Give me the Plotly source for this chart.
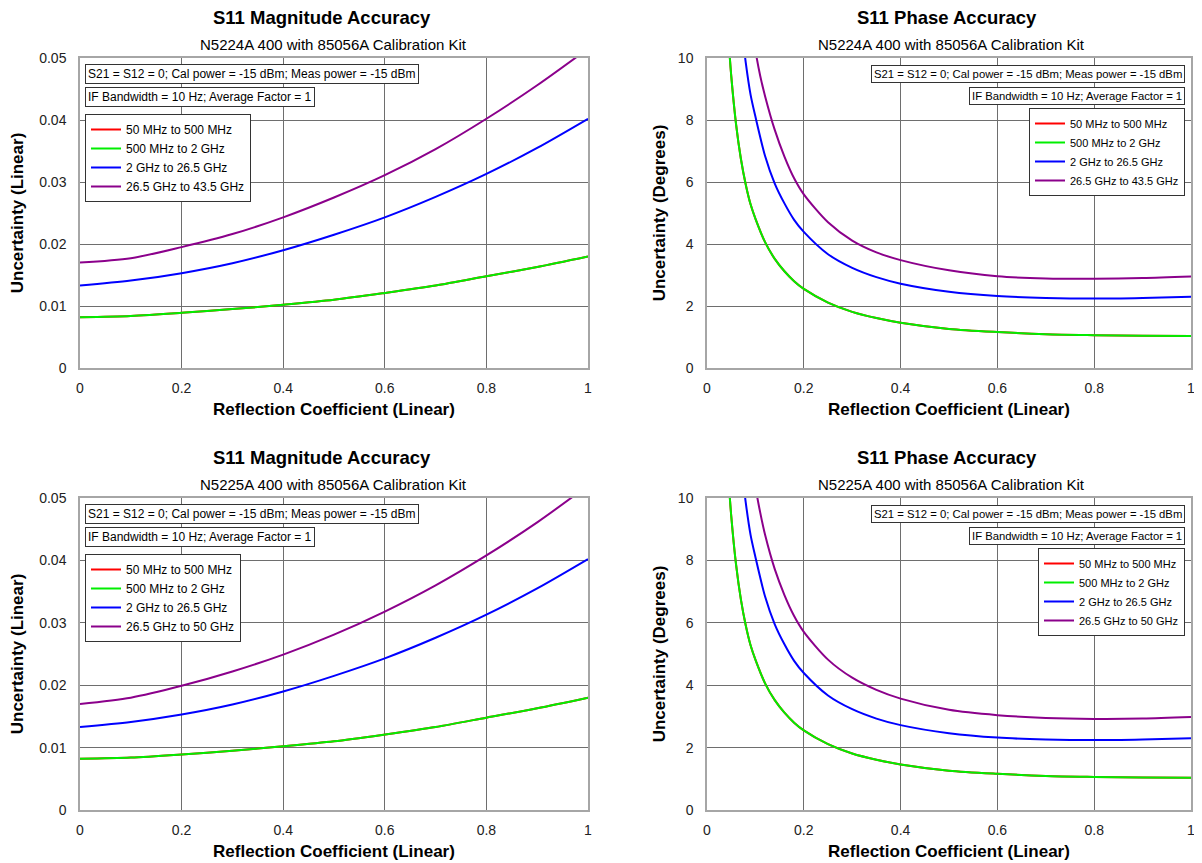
import plotly.graph_objects as go

# ---------------- data ----------------
series_names_top = ["50 MHz to 500 MHz", "500 MHz to 2 GHz", "2 GHz to 26.5 GHz", "26.5 GHz to 43.5 GHz"]
series_names_bot = ["50 MHz to 500 MHz", "500 MHz to 2 GHz", "2 GHz to 26.5 GHz", "26.5 GHz to 50 GHz"]
series_colors = ["#ff0000", "#00ee00", "#0000ff", "#8b008b"]

# Magnitude accuracy (linear)
mag_x = [0.0, 0.1, 0.2, 0.3, 0.4, 0.5, 0.6, 0.7, 0.8, 0.9, 1.0]
mag_red = [0.0082, 0.0084, 0.0089, 0.0095, 0.0102, 0.0110, 0.0121, 0.0133, 0.0148, 0.0163, 0.0180]
mag_green = [0.0082, 0.0084, 0.0089, 0.0095, 0.0102, 0.0110, 0.0121, 0.0133, 0.0148, 0.0163, 0.0180]
mag_blue = [0.0133, 0.0141, 0.0153, 0.0169, 0.0190, 0.0215, 0.0243, 0.0276, 0.0313, 0.0355, 0.0402]
mag_purple_n5224 = [0.0170, 0.0177, 0.0195, 0.0216, 0.0243, 0.0275, 0.0311, 0.0353, 0.0402, 0.0456, 0.0515]
mag_purple_n5225 = [0.0170, 0.0180, 0.0199, 0.0222, 0.0249, 0.0281, 0.0318, 0.0360, 0.0408, 0.0461, 0.0520]

# Phase accuracy (degrees)
ph_x_green = [0.04, 0.045, 0.05, 0.06, 0.07, 0.08, 0.09, 0.10, 0.12, 0.14, 0.16, 0.18, 0.20, 0.25, 0.30, 0.35, 0.40, 0.50, 0.60, 0.70, 0.80, 0.90, 1.00]
ph_green = [11.83, 10.5, 9.44, 7.87, 6.75, 5.92, 5.28, 4.82, 4.06, 3.52, 3.12, 2.80, 2.55, 2.11, 1.81, 1.61, 1.46, 1.26, 1.16, 1.09, 1.06, 1.04, 1.03]
ph_red = [11.83, 10.5, 9.44, 7.87, 6.75, 5.92, 5.28, 4.82, 4.06, 3.52, 3.12, 2.80, 2.55, 2.11, 1.81, 1.61, 1.46, 1.26, 1.16, 1.09, 1.06, 1.04, 1.03]
ph_x_blue = [0.07, 0.08, 0.09, 0.10, 0.12, 0.14, 0.16, 0.18, 0.20, 0.25, 0.30, 0.35, 0.40, 0.50, 0.60, 0.70, 0.80, 0.90, 1.00]
ph_blue = [11.2, 9.86, 8.82, 8.11, 6.84, 5.95, 5.31, 4.78, 4.39, 3.67, 3.23, 2.93, 2.72, 2.46, 2.32, 2.26, 2.24, 2.26, 2.30]
ph_x_purple = [0.09, 0.10, 0.11, 0.12, 0.14, 0.16, 0.18, 0.20, 0.25, 0.30, 0.35, 0.40, 0.50, 0.60, 0.70, 0.80, 0.90, 1.00]
ph_purple_n5224 = [11.34, 10.25, 9.42, 8.77, 7.68, 6.82, 6.12, 5.60, 4.70, 4.11, 3.73, 3.48, 3.15, 2.96, 2.89, 2.88, 2.90, 2.95]
ph_purple_n5225 = [11.5, 10.37, 9.53, 8.82, 7.72, 6.89, 6.22, 5.71, 4.82, 4.24, 3.85, 3.57, 3.21, 3.04, 2.95, 2.92, 2.93, 2.98]

x_ticks = [0, 0.2, 0.4, 0.6, 0.8, 1]
x_tick_text = ["0", "0.2", "0.4", "0.6", "0.8", "1"]
mag_ticks = [0, 0.01, 0.02, 0.03, 0.04, 0.05]
mag_tick_text = ["0", "0.01", "0.02", "0.03", "0.04", "0.05"]
ph_ticks = [0, 2, 4, 6, 8, 10]

titles = ["S11 Magnitude Accuracy", "S11 Phase Accuracy", "S11 Magnitude Accuracy", "S11 Phase Accuracy"]
subtitles = ["N5224A 400 with 85056A Calibration Kit", "N5224A 400 with 85056A Calibration Kit",
             "N5225A 400 with 85056A Calibration Kit", "N5225A 400 with 85056A Calibration Kit"]
note1 = "S21 = S12 = 0; Cal power = -15 dBm; Meas power = -15 dBm"
note2 = "IF Bandwidth = 10 Hz; Average Factor = 1"

# ---------------- layout helpers ----------------
# The page body has an 8px margin, so the figure starts 8px in from the window corner.
OFF = 8
W, H = 1230, 863 - OFF
FONT = "Liberation Sans, Arial, sans-serif"

def px_x(p):
    return (p - OFF) / W

def px_y(p):
    return 1 - (p - OFF) / H

# plot areas in window pixels: (left, right, top, bottom)
areas = [(80, 588, 58, 368), (707, 1191, 58, 368), (80, 588, 498, 810), (707, 1191, 498, 810)]

fig = go.Figure()

panels = [
    dict(kind="mag", names=series_names_top,
         xs=[mag_x, mag_x, mag_x, mag_x],
         ys=[mag_red, mag_green, mag_blue, mag_purple_n5224]),
    dict(kind="ph", names=series_names_top,
         xs=[ph_x_green, ph_x_green, ph_x_blue, ph_x_purple],
         ys=[ph_red, ph_green, ph_blue, ph_purple_n5224]),
    dict(kind="mag", names=series_names_bot,
         xs=[mag_x, mag_x, mag_x, mag_x],
         ys=[mag_red, mag_green, mag_blue, mag_purple_n5225]),
    dict(kind="ph", names=series_names_bot,
         xs=[ph_x_green, ph_x_green, ph_x_blue, ph_x_purple],
         ys=[ph_red, ph_green, ph_blue, ph_purple_n5225]),
]

annotations = []
layout_axes = {}
legends = {}

for i, (panel, area) in enumerate(zip(panels, areas)):
    n = i + 1
    xa = "x" if n == 1 else f"x{n}"
    ya = "y" if n == 1 else f"y{n}"
    lg = "legend" if n == 1 else f"legend{n}"
    for name, xv, yv, col in zip(panel["names"], panel["xs"], panel["ys"], series_colors):
        fig.add_trace(go.Scatter(x=xv, y=yv, name=name, mode="lines",
                                 line=dict(color=col, width=2, shape="spline", smoothing=0.8),
                                 xaxis=xa, yaxis=ya, legend=lg, cliponaxis=True))
    l, r, t, b = area
    axis_common = dict(showline=True, linecolor="#a6a6a6", linewidth=1.5, mirror=True,
                       showgrid=True, gridcolor="#6e6e6e", gridwidth=1, zeroline=False,
                       automargin=False, ticklabeloverflow="allow",
                       ticks="", tickfont=dict(family=FONT, size=14, color="#222"),
                       title_font=dict(family=FONT, size=17, color="#000"))
    layout_axes[("xaxis" if n == 1 else f"xaxis{n}")] = dict(
        axis_common, domain=[px_x(l), px_x(r)], range=[0, 1], anchor=ya,
        tickvals=x_ticks, ticktext=x_tick_text, ticklabelstandoff=6,
        title=dict(text="<b>Reflection Coefficient (Linear)</b>", standoff=9))
    if panel["kind"] == "mag":
        yextra = dict(range=[0, 0.05], tickvals=mag_ticks, ticktext=mag_tick_text,
                      title=dict(text="<b>Uncertainty (Linear)</b>", standoff=13))
    else:
        yextra = dict(range=[0, 10], tickvals=ph_ticks,
                      title=dict(text="<b>Uncertainty (Degrees)</b>", standoff=8))
    layout_axes[("yaxis" if n == 1 else f"yaxis{n}")] = dict(
        axis_common, domain=[px_y(b), px_y(t)], anchor=xa, ticklabelstandoff=9, **yextra)

    cx = (l + r) / 2
    toff = -12 if panel["kind"] == "mag" else -2
    annotations.append(dict(text=f"<b>{titles[i]}</b>", xref="paper", yref="paper",
                            x=px_x(cx + toff), y=px_y(t - 41), xanchor="center", yanchor="middle",
                            showarrow=False, font=dict(family=FONT, size=18.5, color="#000")))
    annotations.append(dict(text=subtitles[i], xref="paper", yref="paper",
                            x=px_x(cx + (0 if panel["kind"] == "mag" else 2)), y=px_y(t - 14),
                            xanchor="center", yanchor="middle",
                            showarrow=False, font=dict(family=FONT, size=15, color="#000")))

    if panel["kind"] == "mag":
        nfs = 12
        ax, xanch = px_x(l + 5), "left"
        y1, y2 = t + 6, t + 29
        leg = dict(x=px_x(l + 5), xanchor="left", y=px_y(t + 56), yanchor="top",
                   font=dict(family=FONT, size=12, color="#000"))
    else:
        nfs = 11.3
        ax, xanch = px_x(r - 6), "right"
        y1, y2 = t + 7, t + 29
        leg = dict(x=px_x(r - 6), xanchor="right", y=px_y(t + 50), yanchor="top",
                   font=dict(family=FONT, size=11, color="#000"))
    for txt, yy in ((note1, y1), (note2, y2)):
        annotations.append(dict(text=txt, xref="paper", yref="paper", x=ax, y=px_y(yy),
                                xanchor=xanch, yanchor="top", showarrow=False,
                                bordercolor="#333", borderwidth=1, borderpad=2, bgcolor="#fff",
                                font=dict(family=FONT, size=nfs, color="#000")))
    legends[lg] = dict(leg, bgcolor="#fff", bordercolor="#333", borderwidth=1,
                       tracegroupgap=0, itemwidth=30)

fig.update_layout(
    width=W, height=H,
    margin=dict(l=0, r=0, t=0, b=0, autoexpand=False),
    paper_bgcolor="#fff", plot_bgcolor="#fff",
    showlegend=True,
    annotations=annotations,
    font=dict(family=FONT),
    **layout_axes, **legends,
)

fig.write_html("out.html")
